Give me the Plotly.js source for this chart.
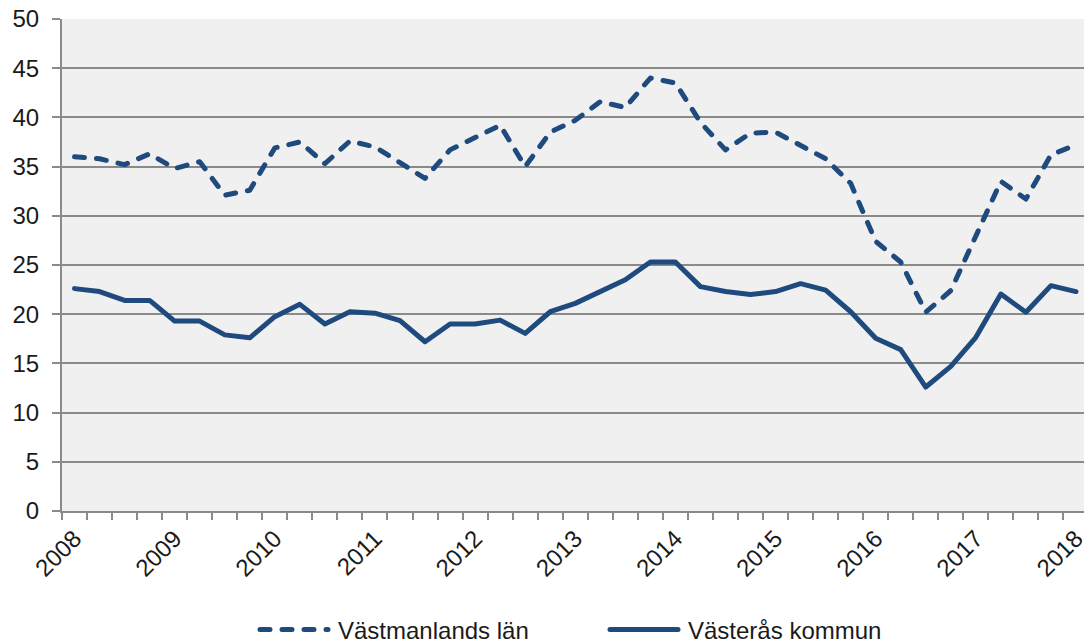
<!DOCTYPE html>
<html>
<head>
<meta charset="utf-8">
<script src="https://cdn.plot.ly/plotly-3.0.1.min.js"></script>
<style>
  html, body { margin:0; padding:0; background:#fff; overflow:hidden; }
  #chart { width:1084px; height:644px; }
  .scatterlayer .js-line, .legendlines path { stroke-linecap: round; stroke-linejoin: round; }
  /* longer legend samples, as in the original; don't clip them at the legend box */
  #chart .legendlines path { d: path('M-38,0h68'); }
  #chart .legend, #chart .legend .scrollbox { clip-path: none !important; }
</style>
</head>
<body>
<div id="chart"></div>
<script>
// quarterly series, 2008 K1 .. 2018 K1
const years = ['2008','2009','2010','2011','2012','2013','2014','2015','2016','2017','2018'];
const quarters = ['K1','K2','K3','K4'];

const vastmanlandsLan = [36.0, 35.8, 35.2, 36.3, 34.8, 35.5, 32.1, 32.6, 36.9, 37.5,
                         35.3, 37.6, 37.0, 35.4, 33.8, 36.7, 37.9, 39.2, 35.0, 38.5,
                         39.7, 41.6, 41.0, 44.0, 43.5, 39.5, 36.7, 38.4, 38.5, 37.2,
                         35.8, 33.3, 27.4, 25.3, 20.2, 22.4, 28.0, 33.5, 31.7, 36.2,
                         37.2];
const vasterasKommun = [22.6, 22.3, 21.4, 21.4, 19.3, 19.3, 17.9, 17.6, 19.75, 21.0,
                        19.0, 20.25, 20.1, 19.35, 17.2, 19.0, 19.0, 19.4, 18.05, 20.25,
                        21.1, 22.3, 23.5, 25.3, 25.3, 22.8, 22.3, 22.0, 22.3, 23.1,
                        22.45, 20.25, 17.55, 16.4, 12.6, 14.7, 17.65, 22.05, 20.2, 22.9,
                        22.3];
const seriesNames = ['Västmanlands län', 'Västerås kommun'];

(function(){
  'use strict';

  const BLUE = '#1f4a7e';
  const GRID = '#8a8a8a';
  const FONT = 'Liberation Sans, Arial, sans-serif';

  // category labels: "2008 K1" ... ; only K1 gets the year as tick text
  const cats = [], catText = [];
  years.forEach(y => quarters.forEach(q => {
    cats.push(y + ' ' + q);
    catText.push(q === 'K1' ? y : '');
  }));
  const x = cats.slice(0, vastmanlandsLan.length);
  const xText = catText.slice(0, x.length);

  const traces = [
    { x, y: vastmanlandsLan, name: seriesNames[0], type:'scatter', mode:'lines',
      line: { color: BLUE, width: 5, dash: '10px,12px' } },
    { x, y: vasterasKommun, name: seriesNames[1], type:'scatter', mode:'lines',
      line: { color: BLUE, width: 5 } }
  ];

  const layout = {
    width: 1084, height: 644,
    margin: { l:62, r:0, t:19, b:133 },
    paper_bgcolor: '#ffffff',
    plot_bgcolor: '#f0f0f0',
    font: { family: FONT, size: 24, color: '#1a1a1a' },
    showlegend: true,
    legend: {
      orientation: 'h',
      xref: 'container', x: 298/1084, xanchor: 'left',
      yref: 'container', y: 14/644, yanchor: 'middle',
      entrywidth: 305, font: { family: FONT, size: 24, color:'#1a1a1a' },
      bgcolor: 'rgba(0,0,0,0)'
    },
    xaxis: {
      type: 'category',
      range: [-0.5, 40.32],
      tickmode: 'array', tickvals: x, ticktext: xText,
      tickson: 'boundaries',
      tickangle: -45, ticks: 'outside', ticklen: 7, tickwidth: 2, tickcolor: GRID,
      ticklabelstandoff: 2,
      showgrid: false, zeroline: false,
      showline: true, linecolor: GRID, linewidth: 2
    },
    yaxis: {
      range: [0, 50], dtick: 5, tick0: 0,
      ticks: 'outside', ticklen: 8, tickwidth: 2, tickcolor: GRID,
      ticklabelstandoff: 8,
      showgrid: true, gridcolor: GRID, gridwidth: 2,
      zeroline: false,
      showline: true, linecolor: GRID, linewidth: 2
    }
  };

  Plotly.newPlot('chart', traces, layout, { displayModeBar:false, staticPlot:true });
})();
</script>
</body>
</html>
